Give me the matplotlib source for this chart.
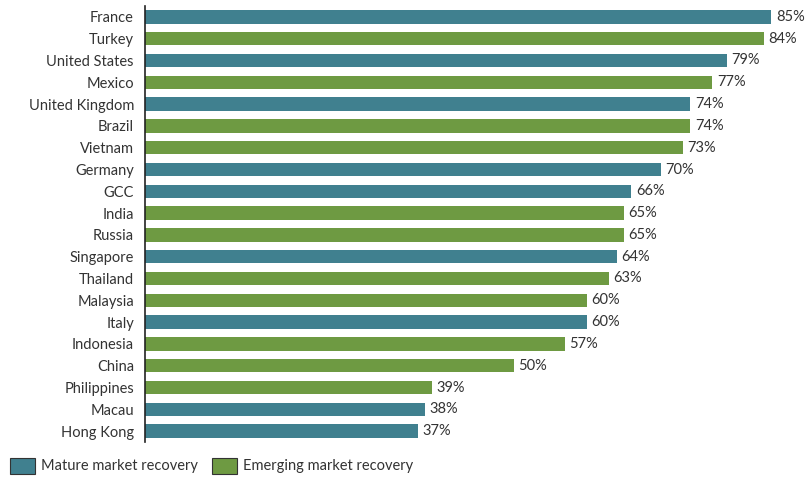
import matplotlib
matplotlib.use("Agg")
import matplotlib.pyplot as plt
from matplotlib.patches import Patch

countries = ["France", "Turkey", "United States", "Mexico", "United Kingdom", "Brazil",
             "Vietnam", "Germany", "GCC", "India", "Russia", "Singapore", "Thailand",
             "Malaysia", "Italy", "Indonesia", "China", "Philippines", "Macau", "Hong Kong"]
values = [85, 84, 79, 77, 74, 74, 73, 70, 66, 65, 65, 64, 63, 60, 60, 57, 50, 39, 38, 37]
market = ["Mature", "Emerging", "Mature", "Emerging", "Mature", "Emerging", "Emerging",
          "Mature", "Mature", "Emerging", "Emerging", "Mature", "Emerging", "Emerging",
          "Mature", "Emerging", "Emerging", "Emerging", "Mature", "Mature"]
legend_labels = ["Mature market recovery", "Emerging market recovery"]

colors = {"Mature": "#40808f", "Emerging": "#6e9a42"}
plt.rcParams['font.family'] = ['Lato', 'DejaVu Sans']

fig = plt.figure(figsize=(8.05, 4.78), dpi=100)
ax = fig.add_axes([145/805, 1 - 442/478, 1 - 145/805, 436/478])

y = list(range(len(countries)))
ax.barh(y, values, height=0.62, color=[colors[m] for m in market])
for yi, v in zip(y, values):
    ax.text(v + 0.6, yi, f"{v}%", va="center", ha="left", fontsize=10.5, color="#333333", clip_on=False)

ax.set_yticks(y)
ax.set_yticklabels(countries, fontsize=10.5, color="#333333")
ax.set_ylim(len(countries) - 0.5, -0.5)
ax.set_xlim(0, 660 / 7.37)
ax.tick_params(axis="y", length=0, pad=8)
ax.set_xticks([])
for s in ["top", "right", "bottom"]:
    ax.spines[s].set_visible(False)
ax.spines["left"].set_color("#222222")
ax.spines["left"].set_linewidth(1.2)

handles = [Patch(facecolor=colors["Mature"], edgecolor="#333333", linewidth=0.8),
           Patch(facecolor=colors["Emerging"], edgecolor="#333333", linewidth=0.8)]
fig.legend(handles, legend_labels, loc="lower left", bbox_to_anchor=(0.0, -0.012), ncol=2,
           frameon=False, fontsize=10.5, handlelength=1.7, handleheight=1.3,
           handletextpad=0.4, columnspacing=1.0, labelcolor="#333333", borderaxespad=0.3)

fig.savefig("out.png", dpi=100)
